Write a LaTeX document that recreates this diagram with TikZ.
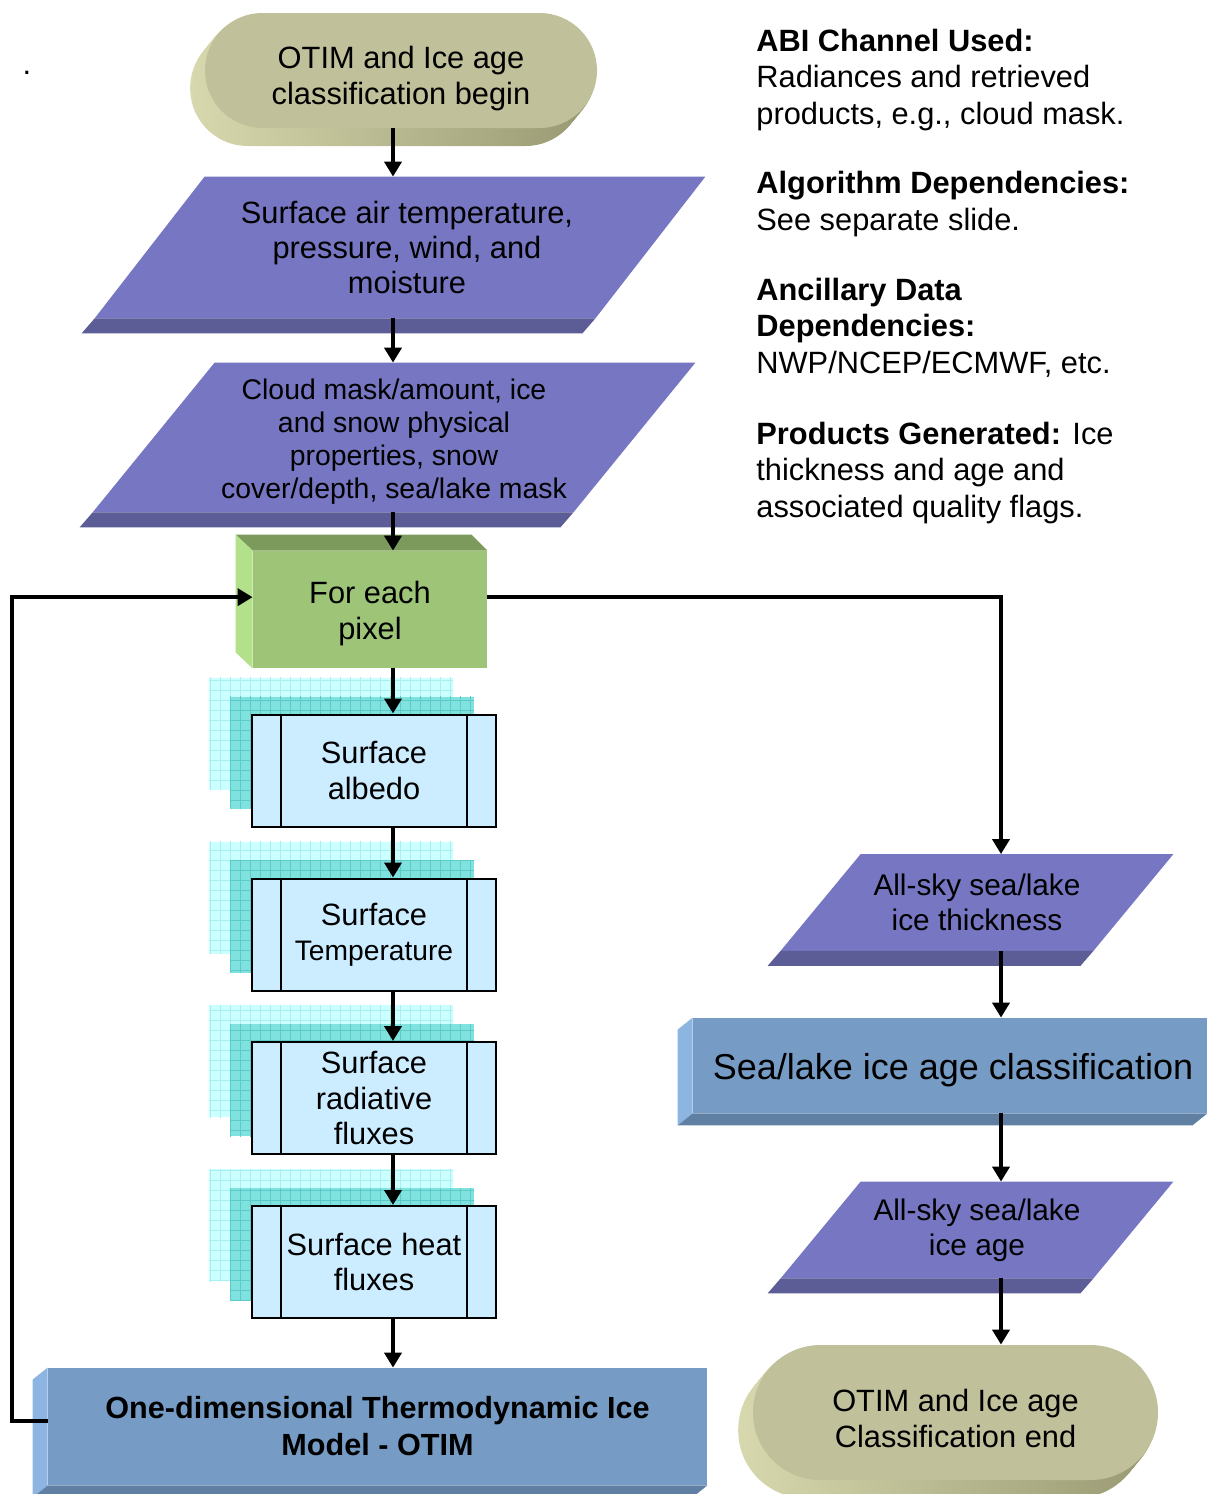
\documentclass[tikz,border=0pt]{standalone}
\usepackage{fontspec}
\setmainfont{Liberation Sans}
\usetikzlibrary{positioning,arrows.meta,shapes.misc,backgrounds,calc}

\definecolor{termface}{HTML}{C0C09A}
\definecolor{termside}{HTML}{9A9A74}
\definecolor{termlight}{HTML}{D8D8AE}
\definecolor{paraface}{HTML}{7676C2}
\definecolor{paraband}{HTML}{5C5C96}
\definecolor{pixface}{HTML}{9DC477}
\definecolor{pixtop}{HTML}{7B9A5C}
\definecolor{pixside}{HTML}{B3E08B}
\definecolor{procface}{HTML}{CCECFF}
\definecolor{gridback}{HTML}{CCFFFF}
\definecolor{gridbackline}{HTML}{A8F0F0}
\definecolor{gridmid}{HTML}{7FE2DE}
\definecolor{gridmidline}{HTML}{5CCAC6}
\definecolor{barface}{HTML}{769CC6}
\definecolor{barside}{HTML}{8DB5E2}
\definecolor{barband}{HTML}{5F80A3}

\begin{document}
\begin{tikzpicture}[
		x=0.5pt, y=-0.5pt,
		every node/.style={inner sep=0, align=center, font=\fontsize{15.4}{17.6}\selectfont},
		terminal/.style={rounded rectangle, fill=termface},
		databox/.style={minimum width=156pt, minimum height=48pt, font=\fontsize{14.9}{17.5}\selectfont},
		procbox/.style={draw, line width=1pt, fill=procface, minimum width=122pt, minimum height=56pt},
		barbox/.style={fill=barface},
		arr/.style={line width=2pt, -{Triangle[length=7.5pt,width=8.5pt]}},
		infotext/.style={anchor=base west, align=left, font=\fontsize{15.4}{18.2}\selectfont},
	]
	\useasboundingbox (0,0) rectangle (1207,1494);
	\coordinate (spine) at (393,0);
	\coordinate (rspine) at (1001,0);

	% left column
	\node[terminal, minimum width=196pt, minimum height=57.5pt] (beg) at (401,70.5) {};
	\node (begtext) at ($(beg)+(0,8)$) {OTIM and Ice age\\classification begin};
	\node[minimum width=250pt, minimum height=70.5pt] (air) at (400,247.5) {};
	\node[font=\fontsize{15.4}{17.5}\selectfont] (airtext) at ($(air)+(7,0)$) {Surface air temperature,\\pressure, wind, and\\moisture};
	\node[minimum width=240pt, minimum height=74.5pt] (cloud) at (394,437.5) {};
	\node[font=\fontsize{14.2}{16.5}\selectfont] (cloudtext) at ($(cloud)+(0,4)$) {Cloud mask/amount, ice\\and snow physical\\properties, snow\\cover/depth, sea/lake mask};
	\node[fill=pixface, minimum width=117pt, minimum height=58.5pt] (pix) at (370,609.5) {};
	\node (pixtext) at ($(pix)+(0,4)$) {For each\\pixel};
	\fill[pixtop] (pix.north west) -- ++(-17,-16) -- ($(pix.north east)+(-16,-16)$) -- (pix.north east) -- cycle;
	\fill[pixside] (pix.north west) -- ++(-17,-16) -- ($(pix.south west)+(-17,-16)$) -- (pix.south west) -- cycle;

	\foreach \nm/\yy/\txt in {alb/770.5/{Surface\\albedo},
			temp/934.5/{Surface\\\fontsize{14.1}{17}\selectfont Temperature},
			rad/1098/{Surface\\radiative\\fluxes},
			heat/1262/{Surface heat\\fluxes}} {
		\begin{scope}
			\clip (209,\yy-93) rectangle (453,\yy+19);
			\fill[gridback] (209,\yy-93) rectangle (453,\yy+19);
			\draw[gridbackline, step=5pt, line width=0.5pt] (200,\yy-100) grid (460,\yy+25);
		\end{scope}
		\begin{scope}
			\clip (230,\yy-74) rectangle (474,\yy+38);
			\fill[gridmid] (230,\yy-74) rectangle (474,\yy+38);
			\draw[gridmidline, step=5pt, line width=0.5pt] (220,\yy-80) grid (480,\yy+45);
		\end{scope}
		\node[procbox] (\nm) at (374,\yy) {\txt};
		\draw[line width=1pt] ($(\nm.north west)+(30,0)$) -- ($(\nm.south west)+(30,0)$);
		\draw[line width=1pt] ($(\nm.north east)+(-30,0)$) -- ($(\nm.south east)+(-30,0)$);
	}

	\node[barbox, minimum width=329.5pt, minimum height=58.5pt, font=\bfseries\fontsize{15.3}{18.5}\selectfont] (otim) at (377.5,1426.5) {One-dimensional Thermodynamic Ice\\Model - OTIM};

	% right column
	\node[databox] (thick) at (977,902.5) {All-sky sea/lake\\ice thickness};
	\node[barbox, minimum width=257pt, minimum height=47.5pt] (sea) at (950,1065.5) {};
	\node[font=\fontsize{18}{21}\selectfont] (seatext) at ($(sea)+(3,5)$) {Sea/lake ice age classification};
	\node[databox] (age) at (977,1230) {All-sky sea/lake\\ice age};
	\node[terminal, minimum width=202.5pt, minimum height=67.5pt] (fin) at (955.5,1412.5) {};
	\node (fintext) at ($(fin)+(0,6)$) {OTIM and Ice age\\Classification end};

	% 3d sides
	\foreach \nm/\rr in {beg/28.7pt, fin/33.7pt} {
		\begin{scope}[on background layer]
			\foreach \k in {2,4,...,16}
				\shade[left color=termlight, right color=termside, rounded corners=\rr]
					($(\nm.west |- \nm.north)+(-\k*0.9,\k*1.1)$) rectangle ($(\nm.east |- \nm.south)+(-\k*0.9,\k*1.1)$);
		\end{scope}
	}
	\foreach \nm/\sl in {air/55, cloud/61, thick/40, age/40} {
		\begin{scope}[on background layer]
			\fill[paraface] ($(\nm.north west)+(\sl,0)$) -- ($(\nm.north east)+(\sl,0)$) -- ($(\nm.south east)+(-\sl,0)$) -- ($(\nm.south west)+(-\sl,0)$) -- cycle;
		\end{scope}
		\fill[paraband] ($(\nm.south west)+(-\sl,0)$) -- ($(\nm.south east)+(-\sl,0)$) -- ++(-13,15) -- ($(\nm.south west)+(-\sl-13,15)$) -- cycle;
	}
	\foreach \nm in {otim, sea} {
		\fill[barside] (\nm.north west) -- ++(-15,12) -- ($(\nm.south west)+(-15,12)$) -- (\nm.south west) -- cycle;
		\fill[barband] (\nm.south west) -- ($(\nm.south west)+(-15,12)$) -- ($(\nm.south east)+(-15,12)$) -- (\nm.south east) -- cycle;
	}

	% connectors
	\foreach \a/\b in {beg/air, air/cloud, cloud/pix, pix/alb, alb/temp, temp/rad, rad/heat, heat/otim}
		\draw[arr] (\a.south -| spine) -- (\b.north -| spine);
	\draw[arr] (otim.179) -- ++(-36,0) |- (pix.174);
	\draw[arr] (pix.6) -| (thick.north -| rspine);
	\foreach \a/\b in {thick/sea, sea/age, age/fin}
		\draw[arr] (\a.south -| rspine) -- (\b.north -| rspine);

	% notes
	\node[anchor=base] (dot) at (27,74) {.};
	\node[infotext] (abi) at (756,124) {\textbf{ABI Channel Used:}\\Radiances and retrieved\\products, e.g., cloud mask.};
	\node[infotext] (algo) at (756,230) {\textbf{Algorithm Dependencies:}\\See separate slide.};
	\node[infotext] (ancil) at (756,373) {\textbf{Ancillary Data}\\\textbf{Dependencies:}\\NWP/NCEP/ECMWF, etc.};
	\node[infotext] (prod) at (756,517) {\textbf{Products Generated:} Ice\\thickness and age and\\associated quality flags.};
\end{tikzpicture}
\end{document}
